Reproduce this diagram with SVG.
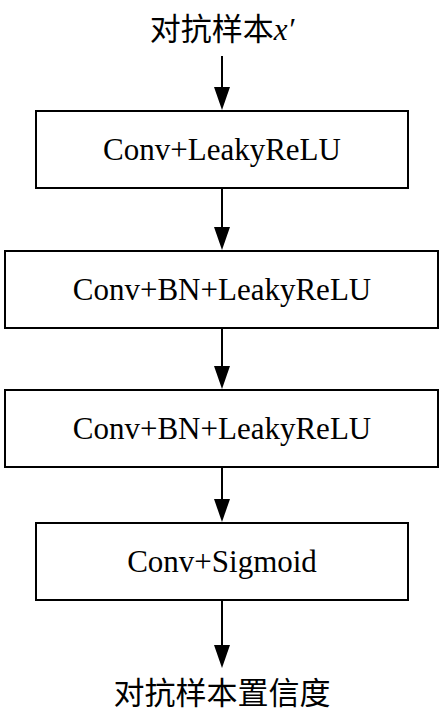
<svg xmlns="http://www.w3.org/2000/svg" width="444" height="715" viewBox="0 0 444 715">
<style>
.box{fill:#fff;stroke:#000;stroke-width:2}
.lbl{font-family:"Liberation Serif","Times New Roman",serif;font-size:31px;text-anchor:middle;fill:#000}
.cjk{font-family:"Liberation Serif","Noto Sans CJK SC",serif;font-size:31px;text-anchor:middle;fill:#000}
.ln{stroke:#000;stroke-width:2;fill:none}
</style>
<rect width="444" height="715" fill="#fff"/>
<g id="input"><text class="cjk" x="222" y="40">对抗样本<tspan font-family="Liberation Serif" font-style="italic">x′</tspan></text></g>
<g id="n1"><rect class="box" x="36" y="111" width="372" height="77"/><text class="lbl" x="222" y="160">Conv+LeakyReLU</text></g>
<g id="n2"><rect class="box" x="5" y="251" width="433" height="77"/><text class="lbl" x="222" y="300">Conv+BN+LeakyReLU</text></g>
<g id="n3"><rect class="box" x="5" y="390" width="433" height="77"/><text class="lbl" x="222" y="439">Conv+BN+LeakyReLU</text></g>
<g id="n4"><rect class="box" x="36" y="523" width="372" height="77"/><text class="lbl" x="222" y="572">Conv+Sigmoid</text></g>
<g id="output"><text class="cjk" x="222" y="704">对抗样本置信度</text></g>
<g id="connectors">
<path d="M222,56 V87" class="ln"/><path d="M214,87 L230,87 L222,110 Z"/>
<path d="M222,188 V227" class="ln"/><path d="M214,227 L230,227 L222,250 Z"/>
<path d="M222,328 V366" class="ln"/><path d="M214,366 L230,366 L222,389 Z"/>
<path d="M222,467 V499" class="ln"/><path d="M214,499 L230,499 L222,522 Z"/>
<path d="M222,600 V645" class="ln"/><path d="M214,645 L230,645 L222,668 Z"/>
</g>
</svg>
